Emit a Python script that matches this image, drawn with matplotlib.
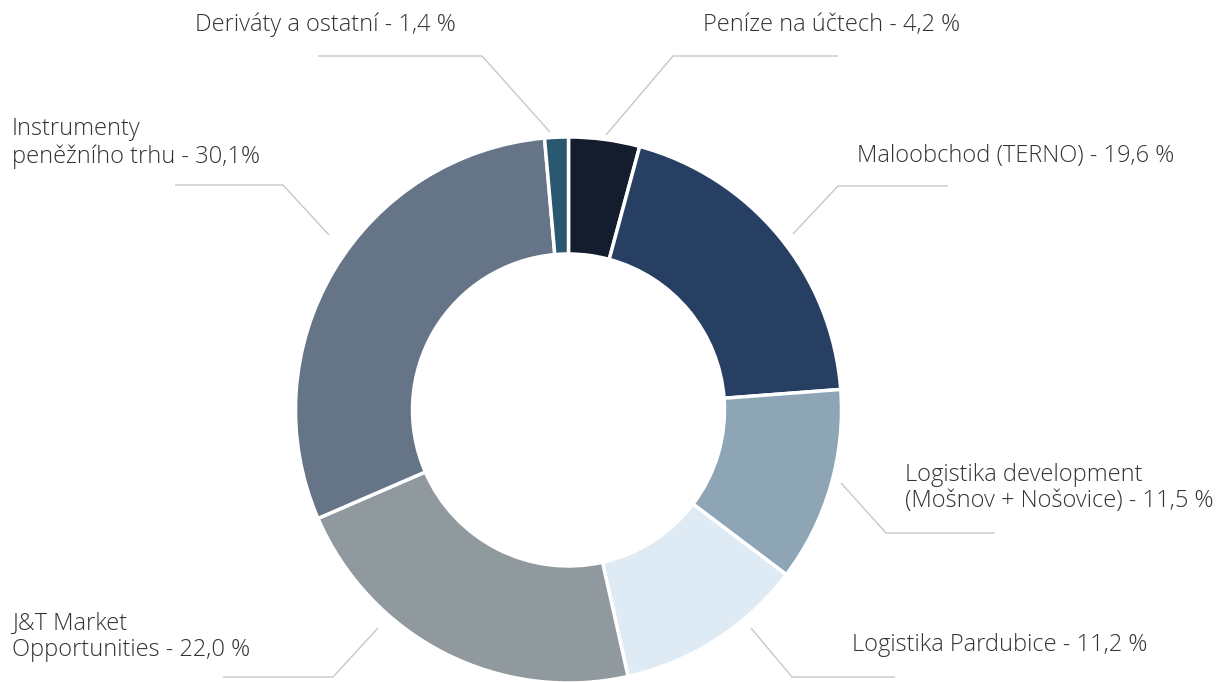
import matplotlib.pyplot as plt

# slices, clockwise from the top
labels = ['Peníze na účtech - 4,2 %',
          'Maloobchod (TERNO) - 19,6 %',
          'Logistika development\n(Mošnov + Nošovice) - 11,5 %',
          'Logistika Pardubice - 11,2 %',
          'J&T Market\nOpportunities - 22,0 %',
          'Instrumenty\npeněžního trhu - 30,1%',
          'Deriváty a ostatní - 1,4 %']
shares = [4.2, 19.6, 11.5, 11.2, 22.0, 30.1, 1.4]
colors = ['#141d2e', '#263f63', '#8ea5b6', '#deebf5', '#8f999e', '#667487', '#2a5870']

W, H = 1218, 682
fig = plt.figure(figsize=(W / 100, H / 100), dpi=100)
ax = fig.add_axes([0, 0, 1, 1])

cx, cy, r = 568.5, H - 410, 273
ax.pie(shares, colors=colors, startangle=90, counterclock=False,
       center=(cx, cy), radius=r, frame=True,
       wedgeprops=dict(width=117, edgecolor='white', linewidth=2.5))
ax.set_xlim(0, W)
ax.set_ylim(0, H)
ax.set_aspect('equal')
ax.axis('off')

# leader lines (pixel coords, y from top) and label anchors
leaders = [
    [(606, 135), (673, 56), (838, 56)],
    [(793, 234), (838, 186), (948, 186)],
    [(841, 483), (886, 533), (995, 533)],
    [(751, 628), (792, 677), (895, 677)],
    [(378, 628), (333, 677), (223, 677)],
    [(329, 235), (283, 185), (175, 185)],
    [(550, 132), (482, 56), (318, 56)],
]
anchors = [(703, 25), (857, 156), (905, 488), (852, 645),
           (12, 637), (12, 143), (195, 25)]

for pts, (tx, ty), lab in zip(leaders, anchors, labels):
    xs = [p[0] for p in pts]
    ys = [H - p[1] for p in pts]
    ax.plot(xs, ys, color='#c8c8c8', lw=1.0, solid_capstyle='butt')
    ax.text(tx, H - ty, lab, ha='left', va='center', fontsize=17,
            family=['Open Sans', 'DejaVu Sans'], fontweight='light',
            color='#333333', linespacing=1.15)

fig.savefig('out.png', dpi=100)
